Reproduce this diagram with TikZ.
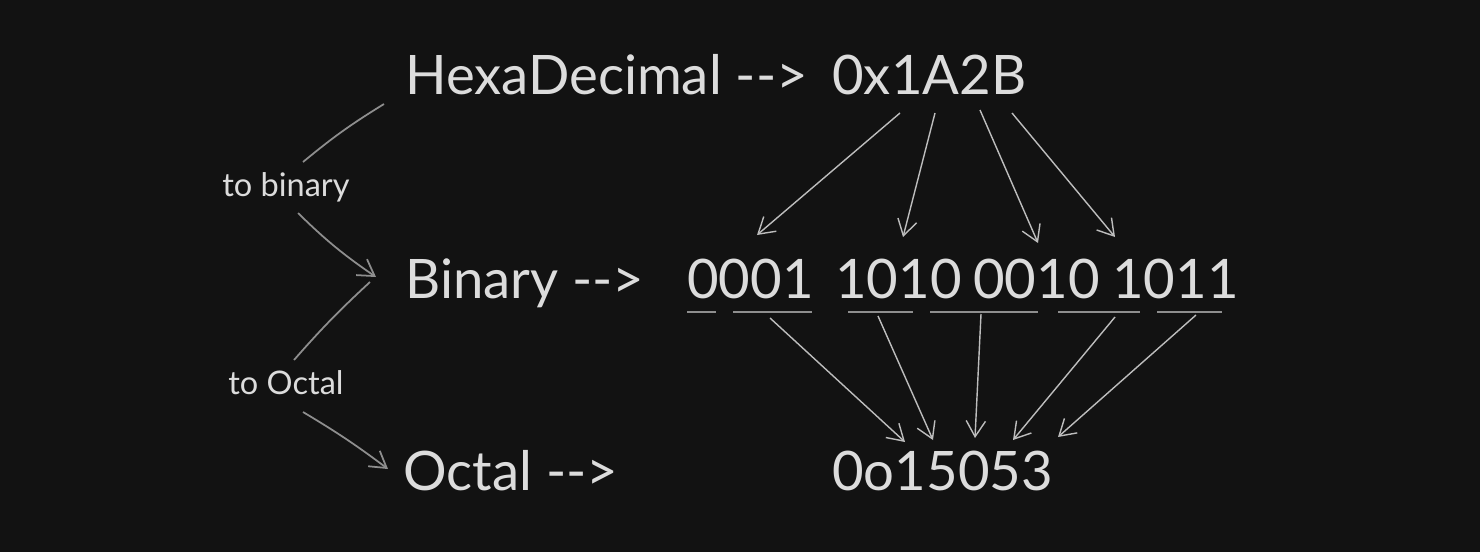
\documentclass[tikz,border=0pt]{standalone}
\usepackage{fontspec}
\setmainfont{Lato}
\usetikzlibrary{arrows.meta}
\definecolor{board}{HTML}{121212}
\definecolor{chalkgray}{HTML}{DCDCDC}
\definecolor{pencilgray}{HTML}{BDBDBD}
\definecolor{faintgray}{HTML}{8E8E8E}
\begin{document}
\begin{tikzpicture}[x=0.02cm,y=-0.02cm,font=\fontsize{31}{37}\selectfont,inner sep=0pt,
		>={Straight Barb[length=9pt,width=11pt]},
		txt/.style={anchor=base west,text=chalkgray},
		hint/.style={anchor=base west,text=chalkgray,font=\fontsize{18.5}{22}\selectfont},
		link/.style={->,draw=pencilgray,line width=0.8pt},
		curl/.style={draw=faintgray,line width=1pt},
		underl/.style={draw=faintgray,line width=1.4pt}]
	\fill[board] (0,0) rectangle (1480,552);
	%%%
	\path (405,94) node[txt] (hexa) {HexaDecimal -{}->};
	\path (832,94) node[txt] (hexval) {0x1A2B};
	%%%
	\path (405,298) node[txt] (binary) {Binary -{}->};
	\path (687,298) node[txt] (nibA) {0001};
	\path (835,298) node[txt] (nibB) {1010};
	\path (973,298) node[txt] (nibC) {0010};
	\path (1112,298) node[txt] (nibD) {1011};
	%%%
	\path (403,490) node[txt] (octal) {Octal -{}->};
	\path (832,490) node[txt] (octval) {0o15053};
	%%%
	\path (222,196) node[hint] (tobin) {to binary};
	\path (228,394) node[hint] (tooct) {to Octal};
	%%% octal groups
	\foreach \a/\b in {687/716,733/812,848/913,930/1038,1058/1140,1157/1222}
		\draw[underl] (\a,312)--(\b,312);
	%%% hex digits to nibbles
	\foreach \sx/\sy/\ex/\ey [count=\i] in {900/113/757/235,935/113/903/237,980/110/1038/243,1012/113/1115/237}{
		\coordinate (hs\i) at (\sx,\sy);
		\coordinate (he\i) at (\ex,\ey);
		\draw[link] (hs\i)--(he\i);
	}
	%%% groups to octal digits
	\foreach \sx/\sy/\ex/\ey [count=\i] in {770/318/905/442,878/316/933/440,981/314/975/438,1115/317/1013/440,1196/315/1058/437}{
		\coordinate (os\i) at (\sx,\sy);
		\coordinate (oe\i) at (\ex,\ey);
		\draw[link] (os\i)--(oe\i);
	}
	%%% left hints
	\coordinate (hexfoot) at (384,104);
	\coordinate (tobintop) at (303,162);
	\coordinate (tobinfoot) at (298,213);
	\coordinate (binhead) at (376,277);
	\coordinate (binfoot) at (370,282);
	\coordinate (toocttop) at (294,360);
	\coordinate (tooctfoot) at (303,412);
	\coordinate (octhead) at (388,469);
	\draw[curl] (hexfoot) to[bend right=4] (tobintop);
	\draw[curl,->] (tobinfoot) to[bend right=5] (binhead);
	\draw[curl] (binfoot) to[bend right=3] (toocttop);
	\draw[curl,->] (tooctfoot) to[bend left=3] (octhead);
\end{tikzpicture}
\end{document}
